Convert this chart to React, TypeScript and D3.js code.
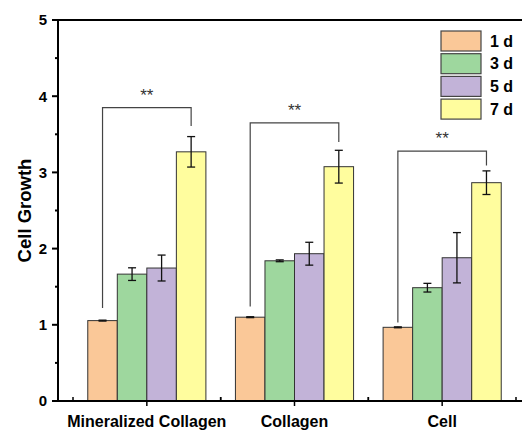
import React, { useEffect, useRef } from "react";
import * as d3 from "d3";

const categories = ["Mineralized Collagen", "Collagen", "Cell"];
const series = ["1 d", "3 d", "5 d", "7 d"];
const colors = ["#FAC898", "#9ED79E", "#C2B3D8", "#FFFD9E"];

// mean values per category, one array per day
const day1 = [1.055, 1.1, 0.967];
const day3 = [1.665, 1.84, 1.487];
const day5 = [1.745, 1.933, 1.88];
const day7 = [3.27, 3.075, 2.865];

const err1 = [0.006, 0.006, 0.006];
const err3 = [0.083, 0.012, 0.057];
const err5 = [0.17, 0.15, 0.33];
const err7 = [0.2, 0.215, 0.155];

// significance brackets: left leg bottom, top, right leg bottom
const bracketLeft = [1.22, 1.24, 1.03];
const bracketTop = [3.85, 3.65, 3.28];
const bracketRight = [3.61, 3.4, 3.09];

const yTicks = [0, 1, 2, 3, 4, 5];

const FONT = "Liberation Sans, Arial, sans-serif";

function drawChart(svgEl: SVGSVGElement) {
  const svg = d3.select(svgEl);
  svg.selectAll("*").remove();

  const left = 58;
  const top = 20;
  const bottom = 401;
  const right = 540;

  const x0 = d3.scaleBand().domain(categories).range([73, 516]);
  const x1 = d3.scaleBand().domain(series).range([0, x0.bandwidth()]).paddingOuter(0.5);
  const y = d3.scaleLinear().domain([0, 5]).range([bottom, top]);

  const values = [day1, day3, day5, day7];
  const errs = [err1, err3, err5, err7];

  const bars = svg.append("g");
  categories.forEach((cat, ci) => {
    series.forEach((s, si) => {
      const bx = (x0(cat) as number) + (x1(s) as number);
      const v = values[si][ci];
      bars
        .append("rect")
        .attr("x", bx)
        .attr("y", y(v))
        .attr("width", x1.bandwidth())
        .attr("height", y(0) - y(v))
        .attr("fill", colors[si])
        .attr("stroke", "#333")
        .attr("stroke-width", 1);
      const cx = bx + x1.bandwidth() / 2;
      const e = errs[si][ci];
      const g = bars.append("g").attr("stroke", "#111").attr("stroke-width", 1.3);
      g.append("line").attr("x1", cx).attr("x2", cx).attr("y1", y(v + e)).attr("y2", y(v - e));
      g.append("line").attr("x1", cx - 4).attr("x2", cx + 4).attr("y1", y(v + e)).attr("y2", y(v + e));
      g.append("line").attr("x1", cx - 4).attr("x2", cx + 4).attr("y1", y(v - e)).attr("y2", y(v - e));
    });

    // bracket
    const lx = (x0(cat) as number) + (x1("1 d") as number) + x1.bandwidth() / 2;
    const rx = (x0(cat) as number) + (x1("7 d") as number) + x1.bandwidth() / 2;
    bars
      .append("path")
      .attr(
        "d",
        `M${lx},${y(bracketLeft[ci])}V${y(bracketTop[ci])}H${rx}V${y(bracketRight[ci])}`
      )
      .attr("fill", "none")
      .attr("stroke", "#444")
      .attr("stroke-width", 1.2);
    bars
      .append("text")
      .attr("x", (lx + rx) / 2)
      .attr("y", y(bracketTop[ci]) - 7)
      .attr("text-anchor", "middle")
      .style("font-family", FONT)
      .style("font-size", "17px")
      .style("fill", "#333")
      .text("**");
  });

  // top frame line
  svg.append("line").attr("x1", left).attr("x2", right).attr("y1", top).attr("y2", top)
    .attr("stroke", "#000").attr("stroke-width", 2);

  // y axis
  const yAxis = svg.append("g").attr("transform", `translate(${left},0)`);
  yAxis.append("line").attr("x1", 0).attr("x2", 0).attr("y1", top - 1).attr("y2", bottom + 1)
    .attr("stroke", "#000").attr("stroke-width", 2);
  yTicks.forEach((t) => {
    yAxis.append("line").attr("x1", -6).attr("x2", 0).attr("y1", y(t)).attr("y2", y(t))
      .attr("stroke", "#000").attr("stroke-width", 2);
    yAxis
      .append("text")
      .attr("x", -11)
      .attr("y", y(t))
      .attr("dy", "0.36em")
      .attr("text-anchor", "end")
      .style("font-family", FONT)
      .style("font-weight", "bold")
      .style("font-size", "15px")
      .text(t);
    if (t < 5) {
      yAxis.append("line").attr("x1", -3).attr("x2", 0).attr("y1", y(t + 0.5)).attr("y2", y(t + 0.5))
        .attr("stroke", "#000").attr("stroke-width", 2);
    }
  });

  // x axis
  const xAxis = svg.append("g");
  xAxis.append("line").attr("x1", left - 1).attr("x2", right).attr("y1", bottom).attr("y2", bottom)
    .attr("stroke", "#000").attr("stroke-width", 2);
  categories.forEach((cat) => {
    const cx = (x0(cat) as number) + x0.bandwidth() / 2;
    xAxis.append("line").attr("x1", cx).attr("x2", cx).attr("y1", bottom).attr("y2", bottom + 5)
      .attr("stroke", "#000").attr("stroke-width", 1.5);
    xAxis
      .append("text")
      .attr("x", cx)
      .attr("y", 427)
      .attr("text-anchor", "middle")
      .style("font-family", FONT)
      .style("font-weight", "bold")
      .style("font-size", "16px")
      .text(cat);
  });
  x0.domain().forEach((cat) => {
    const bx = x0(cat) as number;
    [bx, bx + x0.bandwidth()].forEach((px) => {
      xAxis.append("line").attr("x1", px).attr("x2", px).attr("y1", bottom).attr("y2", bottom - 4)
        .attr("stroke", "#000").attr("stroke-width", 1.5);
    });
  });

  // y title
  svg
    .append("text")
    .attr("transform", `translate(31,${(top + bottom) / 2}) rotate(-90)`)
    .attr("text-anchor", "middle")
    .style("font-family", FONT)
    .style("font-weight", "bold")
    .style("font-size", "18.5px")
    .text("Cell Growth");

  // legend
  const legend = svg.append("g").attr("transform", "translate(441,31)");
  series.forEach((s, i) => {
    const g = legend.append("g").attr("transform", `translate(0,${i * 22.7})`);
    g.append("rect").attr("width", 40).attr("height", 20).attr("fill", colors[i])
      .attr("stroke", "#444").attr("stroke-width", 1.2);
    g.append("text")
      .attr("x", 49)
      .attr("y", 10)
      .attr("dy", "0.36em")
      .style("font-family", FONT)
      .style("font-weight", "bold")
      .style("font-size", "16px")
      .text(s);
  });
}

export default function App() {
  const ref = useRef<SVGSVGElement>(null);
  useEffect(() => {
    if (ref.current) drawChart(ref.current);
  }, []);
  return (
    <svg
      ref={ref}
      width={522}
      height={431}
      style={{ position: "absolute", left: 0, top: 0, background: "#fff" }}
    />
  );
}
